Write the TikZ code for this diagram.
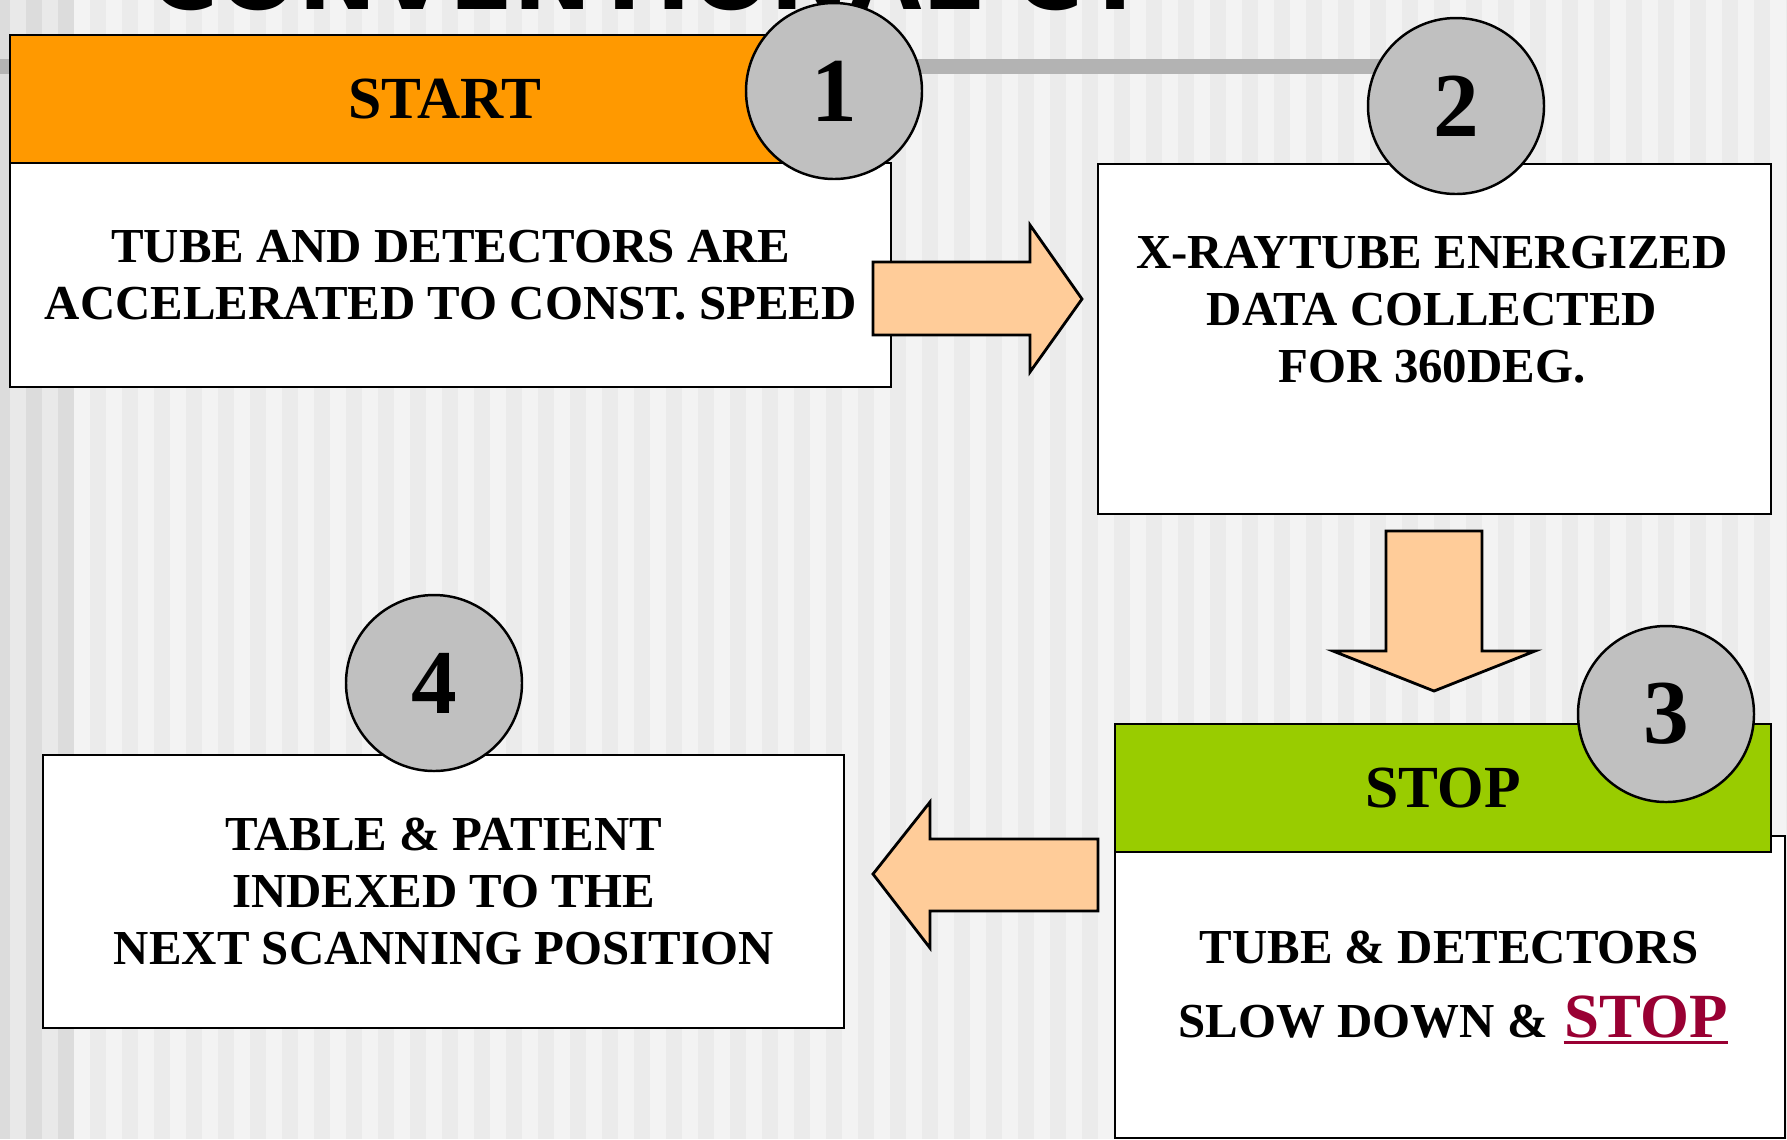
\documentclass[tikz,border=0pt]{standalone}
\usepackage{fontspec}
\setmainfont{Liberation Serif}
\newfontfamily\titlefont{DejaVu Sans}
\usetikzlibrary{positioning}
\definecolor{stripelight}{RGB}{243,243,243}
\definecolor{stripedark}{RGB}{235,235,235}
\definecolor{edgedark}{RGB}{220,220,220}
\definecolor{edgelight}{RGB}{233,233,233}
\definecolor{bargray}{RGB}{179,179,179}
\definecolor{startorange}{RGB}{255,153,0}
\definecolor{stopgreen}{RGB}{153,204,0}
\definecolor{stepgray}{RGB}{192,192,192}
\definecolor{arrowpeach}{RGB}{255,204,153}
\definecolor{stopred}{RGB}{153,0,51}

\begin{document}
\begin{tikzpicture}[
    box/.style={draw=black, line width=0.7pt, fill=white, anchor=north west},
    header/.style={draw=black, line width=0.7pt, anchor=north west, font=\fontsize{17}{20}\selectfont\bfseries},
    bodytext/.style={align=center, inner sep=0pt, font=\fontsize{13.9}{16.2}\selectfont\bfseries},
    stepnum/.style={circle, draw=black, line width=0.7pt, fill=stepgray, minimum size=1.76cm, inner sep=0pt, font=\fontsize{26}{30}\selectfont\bfseries},
    blockarrow/.style={draw=black, line width=0.8pt, fill=arrowpeach, line join=miter},
]
    \useasboundingbox (0, 0) rectangle (17.87, -11.39);
    \clip (0, 0) rectangle (17.87, -11.39);
    % Striped background
    \fill[stripelight] (0, 0) rectangle (17.87, -11.39);
    \foreach \x in {0.90, 1.22, ..., 17.87}
        \fill[stripedark] (\x, 0) rectangle ++(0.16, -11.39);
    \fill[edgedark] (0, 0) rectangle (0.74, -11.39);
    \foreach \x in {0.10, 0.42}
        \fill[edgelight] (\x, 0) rectangle ++(0.16, -11.39);
    \fill[bargray] (0, -0.59) rectangle (14.56, -0.74);
    % Title, cut by the top edge
    \node[anchor=base west, inner sep=0pt, font=\titlefont\fontsize{26.7}{30}\selectfont\bfseries] (title) at (1.49, -0.09) {CONVENTIONAL CT};

    % Step 1
    \node[box, minimum width=8.81cm, minimum height=2.24cm, bodytext] (body1) at (0.09, -1.62)
        {TUBE AND DETECTORS ARE\\ACCELERATED TO CONST. SPEED};
    \node[header, fill=startorange, minimum width=8.69cm, minimum height=1.28cm] (head1) at (0.09, -0.34) {START};
    \node[stepnum] (num1) at (8.34, -0.91) {1};
    \coordinate (arr1) at (8.73, -2.62);
    \draw[blockarrow] (arr1) -- ++(1.57, 0) -- ++(0, 0.37) -- ++(0.52, -0.74)
        -- ++(-0.52, -0.73) -- ++(0, 0.37) -- ++(-1.57, 0) -- cycle;

    % Step 2
    \node[box, minimum width=6.73cm, minimum height=3.50cm] (body2) at (10.97, -1.63) {};
    \node[bodytext] (text2) at (14.32, -3.10) {X-RAYTUBE ENERGIZED\\DATA COLLECTED\\FOR 360DEG.};
    \node[stepnum] (num2) at (14.56, -1.06) {2};
    \coordinate (arr2) at (13.86, -5.31);
    \draw[blockarrow] (arr2) -- ++(0.96, 0) -- ++(0, -1.20) -- ++(0.53, 0)
        -- ++(-1.01, -0.40) -- ++(-1.01, 0.40) -- ++(0.53, 0) -- cycle;

    % Step 3
    \node[box, minimum width=6.70cm, minimum height=3.02cm] (body3) at (11.14, -8.35) {};
    \node[header, fill=stopgreen, minimum width=6.56cm, minimum height=1.28cm] (head3) at (11.14, -7.23) {STOP};
    \node[stepnum] (num3) at (16.66, -7.14) {3};
    \node[bodytext, anchor=base] (text3) at (14.49, -9.63) {TUBE \& DETECTORS};
    \node[bodytext, anchor=base west] (slow) at (11.78, -10.37) {SLOW DOWN \&};
    \node[bodytext, right=0.15cm of slow.base east, anchor=base west, font=\fontsize{17.9}{21}\selectfont\bfseries, text=stopred] (stopword) {STOP};
    \draw[stopred, line width=0.037cm] ([yshift=-0.055cm]stopword.base west) -- ([yshift=-0.055cm]stopword.base east);
    \coordinate (arr3) at (10.98, -8.39);
    \draw[blockarrow] (arr3) -- ++(-1.68, 0) -- ++(0, 0.37) -- ++(-0.57, -0.72)
        -- ++(0.57, -0.74) -- ++(0, 0.37) -- ++(1.68, 0) -- cycle;

    % Step 4
    \node[box, minimum width=8.01cm, minimum height=2.73cm, bodytext] (body4) at (0.42, -7.54)
        {TABLE \& PATIENT\\INDEXED TO THE\\NEXT SCANNING POSITION};
    \node[stepnum] (num4) at (4.34, -6.83) {4};
\end{tikzpicture}
\end{document}
